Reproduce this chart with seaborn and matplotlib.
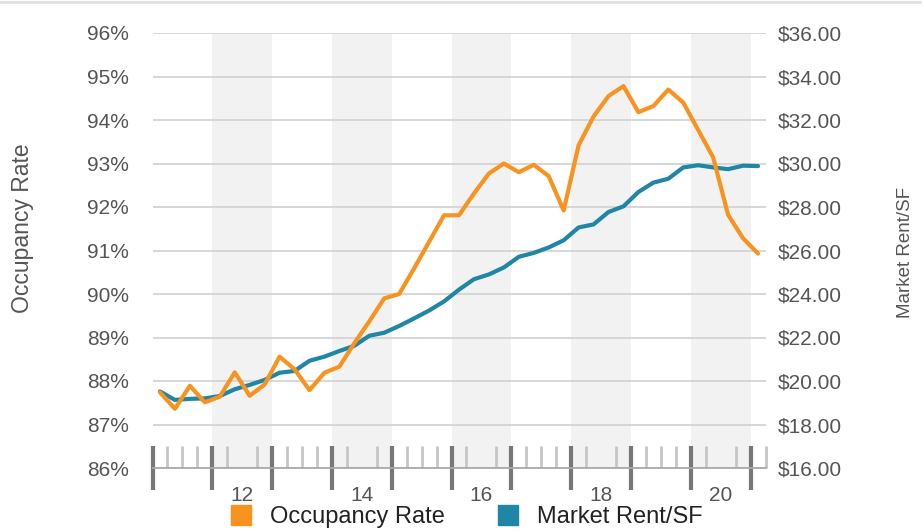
import matplotlib
matplotlib.use("Agg")
import matplotlib.pyplot as plt
import pandas as pd
import seaborn as sns
from matplotlib.lines import Line2D
from matplotlib.ticker import FuncFormatter

# Quarterly data, 2011 Q1 - 2021 Q1
quarters = [f"{y} Q{q}" for y in range(2011, 2021) for q in range(1, 5)] + ["2021 Q1"]

occupancy = [
    87.74, 87.36, 87.89, 87.51, 87.64, 88.20, 87.66, 87.92, 88.56, 88.27,
    87.79, 88.19, 88.33, 88.87, 89.37, 89.90, 90.00, 90.59, 91.20, 91.81,
    91.81, 92.31, 92.77, 93.00, 92.80, 92.97, 92.71, 91.92, 93.42, 94.08,
    94.55, 94.78, 94.18, 94.32, 94.70, 94.40, 93.77, 93.14, 91.82, 91.28,
    90.93,
]
rent = [
    19.52, 19.13, 19.18, 19.20, 19.31, 19.62, 19.82, 20.05, 20.38, 20.46,
    20.93, 21.12, 21.38, 21.62, 22.08, 22.22, 22.53, 22.88, 23.24, 23.66,
    24.20, 24.68, 24.90, 25.22, 25.71, 25.89, 26.14, 26.47, 27.06, 27.20,
    27.77, 28.03, 28.69, 29.12, 29.30, 29.82, 29.92, 29.82, 29.74, 29.90,
    29.88,
]
shaded_years = [2012, 2014, 2016, 2018, 2020]
year_labels = ["12", "14", "16", "18", "20"]

df = pd.DataFrame({"quarter": quarters, "occupancy": occupancy, "rent": rent})
# plot each quarter at its midpoint
df["x"] = [int(s[:4]) + (int(s[-1]) - 1) / 4 + 0.125 for s in df["quarter"]]

ORANGE = "#F7931E"
BLUE = "#1F86A5"
TXT = "#555555"

sns.set_style("white")
plt.rcParams["font.family"] = ["Liberation Sans", "DejaVu Sans"]

fig = plt.figure(figsize=(9.22, 5.31), dpi=100)
W, H = 922, 531
ax = fig.add_axes([152.5 / W, 1 - 468 / H, (765.5 - 152.5) / W, (468 - 33) / H])
ax2 = ax.twinx()

# bottom layer (rent axis): bands, grid, rent line
for yr in shaded_years:
    ax2.axvspan(yr, yr + 1, color="#f2f2f2", zorder=0, lw=0)
ax2.set_ylim(16, 36)
ax2.set_yticks(range(16, 37, 2))
ax2.yaxis.grid(True, color="#d4d4d4", lw=1.3)
ax2.set_axisbelow(True)
sns.lineplot(data=df, x="x", y="rent", ax=ax2, color=BLUE, lw=3, zorder=3)
ax2.yaxis.set_major_formatter(FuncFormatter(lambda v, p: f"${v:.2f}"))
ax2.tick_params(axis="y", length=0, pad=9, labelsize=15, labelcolor=TXT)
ax2.set_ylabel("")
ax2.set_xlabel("")

# top layer (occupancy axis)
ax.set_zorder(ax2.get_zorder() + 1)
ax.patch.set_visible(False)
sns.lineplot(data=df, x="x", y="occupancy", ax=ax, color=ORANGE, lw=3, zorder=4)
ax.set_ylim(86, 96)
ax.set_yticks(range(86, 97))
ax.yaxis.set_major_formatter(FuncFormatter(lambda v, p: f"{v:.0f}%"))
ax.tick_params(axis="y", length=0, pad=17, labelsize=15, labelcolor=TXT)
ax.set_ylabel("")
ax.set_xlabel("")

ax.set_xlim(2011, 2021.25)
ax.set_xticks([y + 0.5 for y in shaded_years])
ax.set_xticklabels(year_labels)
# quarter ticks, skipping the year boundaries
ax.set_xticks([2011 + i * 0.25 for i in range(42) if i % 4], minor=True)
ax.tick_params(axis="x", which="major", bottom=True, length=0, pad=13, labelsize=15,
               labelcolor=TXT)
ax.tick_params(axis="x", which="minor", bottom=True, direction="in", length=16, width=2,
               color="#c6c6c6")

for a in (ax, ax2):
    for s in ("top", "left", "right"):
        a.spines[s].set_visible(False)
ax2.spines["bottom"].set_visible(False)
ax.spines["bottom"].set_color("#aaaaaa")
ax.spines["bottom"].set_linewidth(1.3)

# year boundary ticks
sec = ax.secondary_xaxis("bottom")
sec.set_xticks(range(2011, 2022))
sec.tick_params(bottom=True, direction="inout", length=31, width=3, color="#777777",
                labelbottom=False)
sec.spines["bottom"].set_visible(False)

fig.text(22 / W, 1 - 313 / H, "Occupancy Rate", rotation=90, ha="center", va="bottom",
         fontsize=16.5, color=TXT)
fig.text(905 / W, 1 - 318 / H, "Market Rent/SF", rotation=90, ha="center", va="bottom",
         fontsize=13.5, color=TXT)

handles = [
    Line2D([], [], marker="s", ls="none", markersize=15, color=ORANGE),
    Line2D([], [], marker="s", ls="none", markersize=15, color=BLUE),
]
fig.legend(handles, ["Occupancy Rate", "Market Rent/SF"], loc="center",
           bbox_to_anchor=(466 / W, 1 - 517 / H), ncol=2, frameon=False,
           fontsize=17, handlelength=1.0, handletextpad=0.7, columnspacing=2.2,
           labelcolor="#222222")

fig.add_artist(Line2D([0, 1], [1 - 2 / H, 1 - 2 / H], color="#e2e2e2", lw=2))

fig.savefig("out.png", dpi=100)
